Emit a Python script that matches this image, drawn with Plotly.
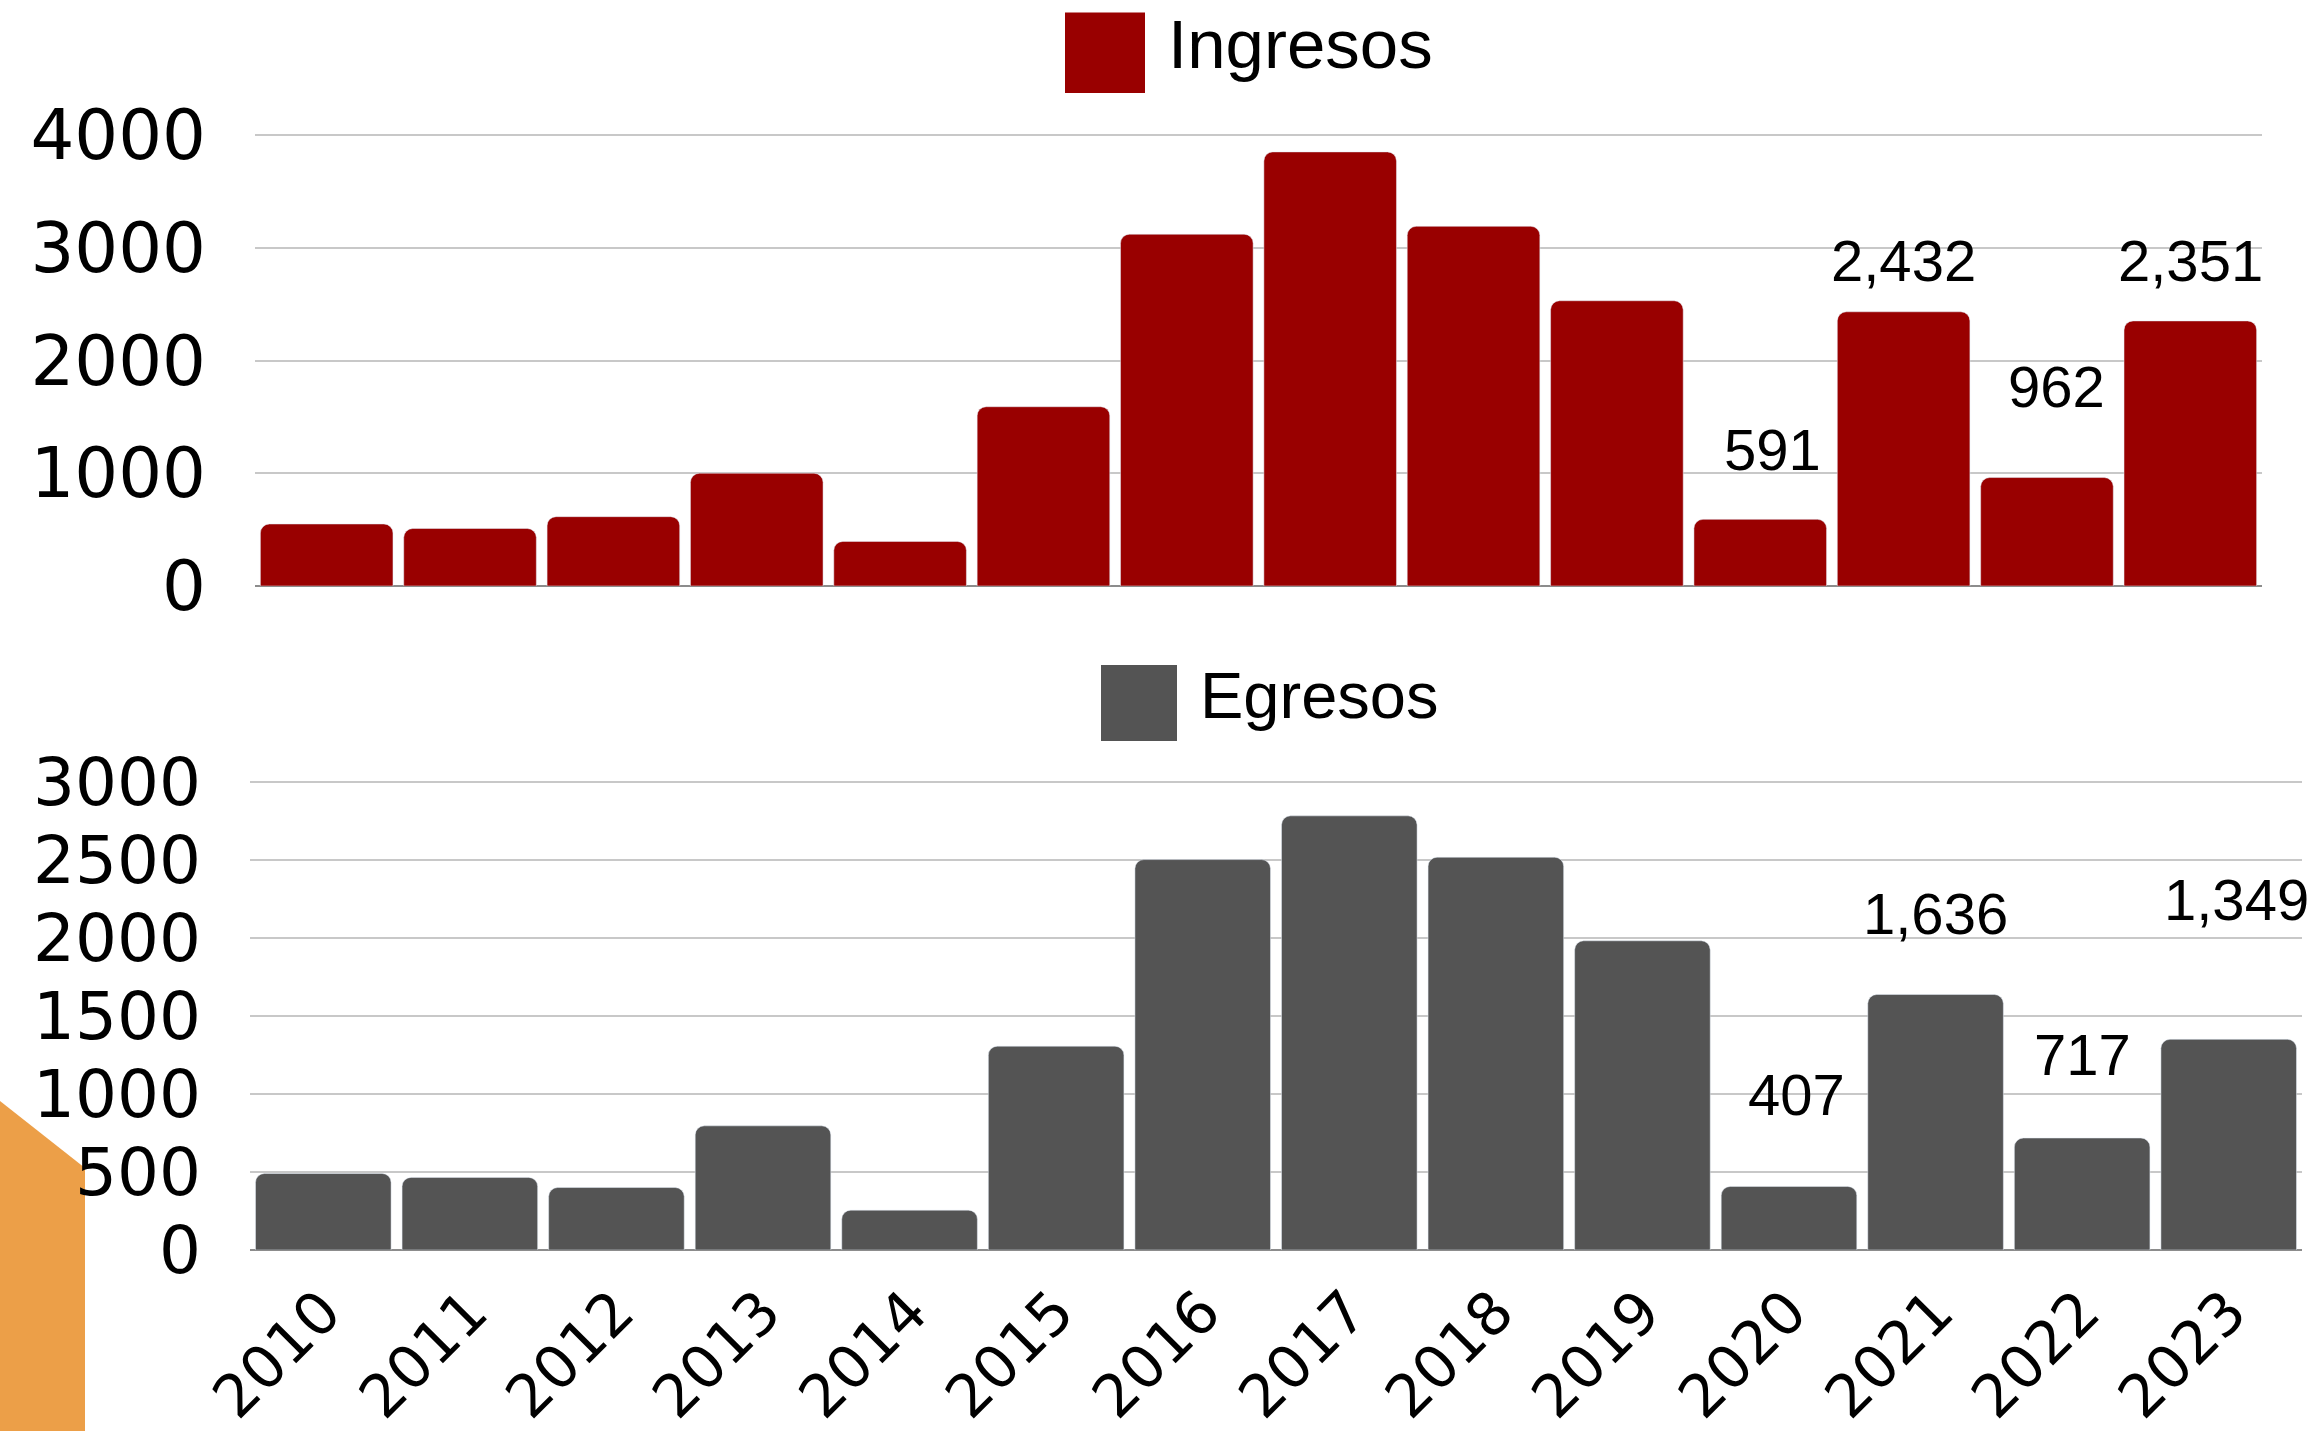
import plotly.graph_objects as go

years = ["2010", "2011", "2012", "2013", "2014", "2015", "2016",
         "2017", "2018", "2019", "2020", "2021", "2022", "2023"]
ingresos = [550, 510, 615, 1000, 395, 1590, 3120, 3850, 3190, 2530, 591, 2432, 962, 2351]
egresos = [490, 465, 400, 795, 255, 1305, 2500, 2780, 2515, 1980, 407, 1636, 717, 1349]

# which bars carry a value label, and how each label is nudged (style only)
label_years = ["2020", "2021", "2022", "2023"]
ing_label_shift = {"2020": (12, 35), "2021": (0, 17), "2022": (10, 57), "2023": (0, 26)}
egr_label_shift = {"2020": (7, 57), "2021": (0, 47), "2022": (0, 49), "2023": (8, 105)}

y1_ticks = [0, 1000, 2000, 3000, 4000]
y2_ticks = [0, 500, 1000, 1500, 2000, 2500, 3000]

W, H = 2321, 1431
RED = "#990000"
GREY = "#545454"
GRID = "#c8c8c8"
TICK_FONT = "DejaVu Sans"
LABEL_FONT = "Liberation Sans, Arial, sans-serif"


def px_x(p):
    return p / W


def px_y(p):
    return 1 - p / H


fig = go.Figure()
fig.add_trace(go.Bar(x=years, y=ingresos, name="Ingresos", marker=dict(color=RED, cornerradius=9),
                     xaxis="x", yaxis="y", showlegend=False, hoverinfo="x+y"))
fig.add_trace(go.Bar(x=years, y=egresos, name="Egresos", marker=dict(color=GREY, cornerradius=9),
                     xaxis="x2", yaxis="y2", showlegend=False, hoverinfo="x+y"))

annotations = []
for yr in label_years:
    i = years.index(yr)  # category index on the category axis
    dx, dy = ing_label_shift[yr]
    annotations.append(dict(x=i, y=ingresos[i], xref="x", yref="y", text=f"{ingresos[i]:,}",
                            showarrow=False, yanchor="bottom", xanchor="center", xshift=dx, yshift=dy,
                            font=dict(family=LABEL_FONT, size=58, color="#000000")))
    dx, dy = egr_label_shift[yr]
    annotations.append(dict(x=i, y=egresos[i], xref="x2", yref="y2", text=f"{egresos[i]:,}",
                            showarrow=False, yanchor="bottom", xanchor="center", xshift=dx, yshift=dy,
                            font=dict(family=LABEL_FONT, size=58, color="#000000")))

# manual legends (large swatches)
annotations.append(dict(x=px_x(1166), y=px_y(45), xref="paper", yref="paper", text="Ingresos",
                        showarrow=False, xanchor="left", yanchor="middle",
                        font=dict(family=LABEL_FONT, size=69, color="#000000")))
annotations.append(dict(x=px_x(1198), y=px_y(695), xref="paper", yref="paper", text="Egresos",
                        showarrow=False, xanchor="left", yanchor="middle",
                        font=dict(family=LABEL_FONT, size=65, color="#000000")))

shapes = [
    dict(type="rect", xref="paper", yref="paper", x0=px_x(1065), x1=px_x(1145),
         y0=px_y(93), y1=px_y(12.5), fillcolor=RED, line=dict(width=0)),
    dict(type="rect", xref="paper", yref="paper", x0=px_x(1101), x1=px_x(1177),
         y0=px_y(741), y1=px_y(665), fillcolor=GREY, line=dict(width=0)),
    dict(type="path", xref="paper", yref="paper", layer="below",
         path=f"M 0 {px_y(1101)} L {px_x(85)} {px_y(1168)} L {px_x(85)} 0 L 0 0 Z",
         fillcolor="#EC9F48", line=dict(width=0)),
]

y1_top = 4010
y2_top = 3008
xr = [-0.5, len(years) - 0.5]
fig.update_layout(
    width=W, height=H,
    margin=dict(l=0, r=0, t=0, b=0),
    paper_bgcolor="white", plot_bgcolor="white",
    bargap=0.075,
    annotations=annotations,
    shapes=shapes,
    xaxis=dict(domain=[px_x(255), px_x(2262)], anchor="y", type="category", range=xr,
               showticklabels=False, showgrid=False, ticks="", automargin=False),
    yaxis=dict(domain=[px_y(586), px_y(586 - 451 * y1_top / 4000)], anchor="x", range=[0, y1_top],
               tickvals=y1_ticks, ticktext=[str(v) for v in y1_ticks],
               showgrid=True, gridcolor=GRID, gridwidth=2,
               zeroline=True, zerolinecolor="#8c8c8c", zerolinewidth=2,
               ticks="", ticklabelstandoff=48, automargin=False,
               tickfont=dict(family=TICK_FONT, size=69, color="#000000")),
    xaxis2=dict(domain=[px_x(250), px_x(2302)], anchor="y2", type="category", range=xr,
                showgrid=False, ticks="", tickangle=-45, automargin=False,
                ticklabelstandoff=14,
                tickfont=dict(family=TICK_FONT, size=59, color="#000000")),
    yaxis2=dict(domain=[px_y(1250), px_y(1250 - 468.5 * y2_top / 3000)], anchor="x2", range=[0, y2_top],
                tickvals=y2_ticks, ticktext=[str(v) for v in y2_ticks],
                showgrid=True, gridcolor=GRID, gridwidth=2,
                zeroline=True, zerolinecolor="#8c8c8c", zerolinewidth=2,
                ticks="", ticklabelstandoff=48, automargin=False,
                tickfont=dict(family=TICK_FONT, size=66, color="#000000")),
)

fig.write_html("out.html", config={"displayModeBar": False},
               post_script="document.body.style.margin='0';document.body.style.overflow='hidden';")
